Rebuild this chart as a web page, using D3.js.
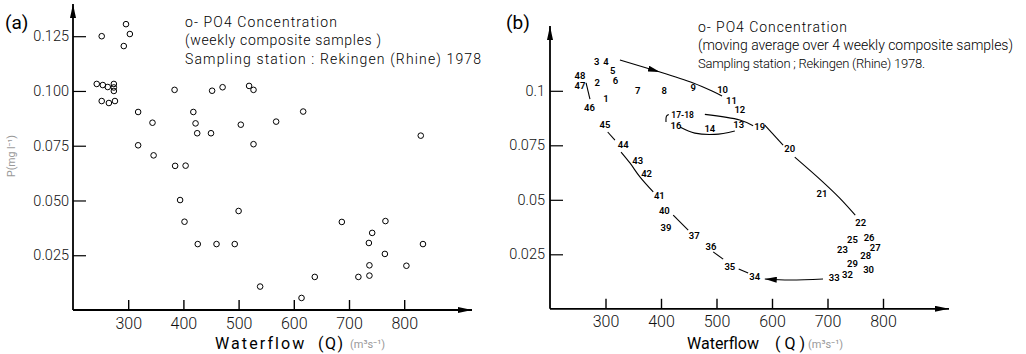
<!DOCTYPE html>
<html>
<head>
<meta charset="utf-8">
<script src="https://cdn.jsdelivr.net/npm/d3@7"></script>
<style>
  body { margin: 0; background: #fff; }
  svg { display: block; font-family: Roboto, "Liberation Sans", sans-serif; }
  .tick text { font-family: Roboto, "Liberation Sans", sans-serif; fill: #111; }
</style>
</head>
<body>
<svg id="chart" width="1026" height="354"></svg>
<script>
// ---------- data (a): weekly samples ----------
const flowA = [252, 296, 303, 292, 243, 254, 263, 274, 274, 274, 252, 265, 276,
  318, 344, 318, 346, 385, 404, 384, 418, 422, 425, 450, 452, 471, 504, 519, 527,
  527, 568, 617, 830, 394, 402, 426, 460, 493, 500, 539, 614, 638, 687, 717, 737,
  737, 736, 742, 766, 765, 804, 834];
const po4A = [0.125, 0.1305, 0.126, 0.1205, 0.1032, 0.1027, 0.1018, 0.1032, 0.1016,
  0.1000, 0.0954, 0.0945, 0.0954, 0.0904, 0.0855, 0.0752, 0.0706, 0.0658, 0.0659,
  0.1005, 0.0904, 0.0852, 0.0807, 0.0807, 0.1001, 0.1017, 0.0846, 0.1023, 0.1005,
  0.0757, 0.0860, 0.0906, 0.0796, 0.0502, 0.0403, 0.0301, 0.0301, 0.0301, 0.0452,
  0.0107, 0.0055, 0.0151, 0.0402, 0.0151, 0.0157, 0.0204, 0.0306, 0.0352, 0.0406,
  0.0256, 0.0202, 0.0301];

// ---------- data (b): moving average, labelled by week ----------
const weekB = ["1","2","3","4","5","6","7","8","9","10","11","12","13","14","16",
  "17-18","19","20","21","22","23","25","26","27","28","29","30","32","33","34",
  "35","36","37","39","40","41","42","43","44","45","46","47","48"];
const flowB = [301, 285, 284, 301, 313, 318, 358, 406, 458, 511, 527, 542, 540, 488,
  427, 439, 578, 632, 690, 760, 727, 745, 775, 786, 769, 745, 774, 736, 712, 569,
  524, 490, 460, 409, 406, 397, 374, 358, 332, 299, 271, 254, 254];
const po4B = [0.0962, 0.1037, 0.1134, 0.1134, 0.1092, 0.1046, 0.1000, 0.1000, 0.1013,
  0.1007, 0.0955, 0.0914, 0.0843, 0.0825, 0.0840, 0.0888, 0.0834, 0.0736, 0.0527,
  0.0395, 0.0273, 0.0316, 0.0326, 0.0280, 0.0242, 0.0209, 0.0178, 0.0158, 0.0143,
  0.0146, 0.0193, 0.0283, 0.0334, 0.0374, 0.0450, 0.0517, 0.0618, 0.0678, 0.0751,
  0.0843, 0.0924, 0.1025, 0.1070];

// hand drawn trajectory pieces in (b), [Q, P]
const trackSegments = [
  [[326, 0.1141], [398, 0.1086]],
  [[398, 0.1086], [458, 0.1036], [492, 0.0999], [510, 0.0976]],
  [[479, 0.0892], [542, 0.0866], [566, 0.0840]],
  [[434, 0.0834], [461, 0.0806], [497, 0.0800], [533, 0.0816]],
  [[409, 0.0857], [410, 0.0884], [414, 0.0891]],
  [[587, 0.0843], [620, 0.0751]],
  [[641, 0.0696], [690, 0.0586], [722, 0.0508], [750, 0.0430]],
  [[692, 0.0137], [632, 0.0132], [587, 0.0137]],
  [[540, 0.0183], [557, 0.0164]],
  [[494, 0.0261], [512, 0.0228]],
  [[422, 0.0430], [449, 0.0361]],
  [[304, 0.0811], [317, 0.0774]],
  [[328, 0.0719], [344, 0.0669], [362, 0.0605], [386, 0.0536]],
  [[265, 0.1036], [272, 0.0962]]
];
const arrowSegments = [0, 7];

const xTicks = [300, 400, 500, 600, 700, 800];
const yTicksA = [0.025, 0.05, 0.075, 0.1, 0.125];
const yTicksB = [0.025, 0.05, 0.075, 0.1];

const svg = d3.select("#chart");

const defs = svg.append("defs");
defs.append("marker")
  .attr("id", "axisArrow")
  .attr("viewBox", "0 0 14 6")
  .attr("refX", 14).attr("refY", 3)
  .attr("markerWidth", 14).attr("markerHeight", 6)
  .attr("markerUnits", "userSpaceOnUse")
  .attr("orient", "auto")
  .append("path").attr("d", "M0,0L14,3L0,6Z").attr("fill", "#000");
defs.append("marker")
  .attr("id", "trackArrow")
  .attr("viewBox", "0 0 12 6")
  .attr("refX", 12).attr("refY", 3)
  .attr("markerWidth", 12).attr("markerHeight", 6)
  .attr("markerUnits", "userSpaceOnUse")
  .attr("orient", "auto")
  .append("path").attr("d", "M0,0L12,3L0,6Z").attr("fill", "#000");

// scales
const xa = d3.scaleLinear().domain([200, 900]).range([73, 459.4]);
const ya = d3.scaleLinear().domain([0, 0.125]).range([310, 36.2]);
const xb = d3.scaleLinear().domain([200, 900]).range([550, 938.5]);
const yb = d3.scaleLinear().domain([0, 0.1]).range([308.8, 90.8]);

function drawAxes(x, y, yTicks, yFmt, xEnd, yTop, xPad, yPad) {
  const g = svg.append("g");
  g.append("g")
    .attr("transform", `translate(0,${y(0)})`)
    .call(d3.axisBottom(x).tickValues(xTicks).tickSize(-10).tickPadding(xPad).tickFormat(d3.format("d")))
    .call(s => s.select(".domain").remove())
    .call(s => s.selectAll(".tick line").attr("stroke-width", 1.4))
    .call(s => s.selectAll(".tick text").attr("font-size", 16).attr("font-weight", 300));
  g.append("g")
    .attr("transform", `translate(${x(200)},0)`)
    .call(d3.axisLeft(y).tickValues(yTicks).tickSize(-13).tickPadding(yPad).tickFormat(yFmt))
    .call(s => s.select(".domain").remove())
    .call(s => s.selectAll(".tick line").attr("stroke-width", 1.2))
    .call(s => s.selectAll(".tick text").attr("font-size", 14.5).attr("font-weight", 300));
  g.append("line")
    .attr("x1", x(200)).attr("y1", y(0)).attr("x2", xEnd).attr("y2", y(0))
    .attr("stroke", "#000").attr("stroke-width", 1.8).attr("marker-end", "url(#axisArrow)");
  g.append("line")
    .attr("x1", x(200)).attr("y1", y(0)).attr("x2", x(200)).attr("y2", yTop)
    .attr("stroke", "#000").attr("stroke-width", 1.8).attr("marker-end", "url(#axisArrow)");
}

function notes(lines, x, ys, sizes, widths) {
  svg.append("g").selectAll("text")
    .data(lines)
    .join("text")
    .attr("x", x)
    .attr("y", (d, i) => ys[i])
    .attr("font-size", (d, i) => sizes[i])
    .attr("font-weight", 300)
    .attr("textLength", (d, i) => widths[i])
    .attr("lengthAdjust", "spacing")
    .text(d => d);
}

// ---------- panel (a) ----------
drawAxes(xa, ya, yTicksA, d3.format(".3f"), 472, 4, 8, 4);

svg.append("g").selectAll("circle")
  .data(flowA.map((q, i) => [q, po4A[i]]))
  .join("circle")
  .attr("cx", d => xa(d[0]))
  .attr("cy", d => ya(d[1]))
  .attr("r", 2.8)
  .attr("fill", "none")
  .attr("stroke", "#000")
  .attr("stroke-width", 1);

svg.append("text").attr("x", 5).attr("y", 29).attr("font-size", 19).text("(a)");

notes(["o- PO4 Concentration", "(weekly composite samples )",
  "Sampling station : Rekingen (Rhine) 1978"], 185, [27, 45, 64], [14, 14, 14], [152, 196, 296]);

svg.append("text")
  .attr("transform", "translate(15,156) rotate(-90)")
  .attr("text-anchor", "middle")
  .attr("font-size", 10.5)
  .attr("fill", "#999")
  .text("P(mg l⁻¹)");

svg.append("text").attr("x", 215).attr("y", 349).attr("font-size", 16)
  .attr("letter-spacing", 2.1).text("Waterflow");
svg.append("text").attr("x", 318).attr("y", 349).attr("font-size", 16)
  .attr("letter-spacing", 1.5).text("(Q)");
svg.append("text").attr("x", 350).attr("y", 348).attr("font-size", 11)
  .attr("fill", "#999").text("(m³s⁻¹)");

// ---------- panel (b) ----------
drawAxes(xb, yb, yTicksB, d3.format("~g"), 949, 26, 7, 5);

const line = d3.line()
  .x(d => xb(d[0]))
  .y(d => yb(d[1]))
  .curve(d3.curveCatmullRom);

svg.append("g").selectAll("path")
  .data(trackSegments)
  .join("path")
  .attr("d", line)
  .attr("fill", "none")
  .attr("stroke", "#000")
  .attr("stroke-width", 1.1)
  .attr("marker-end", (d, i) => arrowSegments.includes(i) ? "url(#trackArrow)" : null);

svg.append("g").selectAll("text")
  .data(weekB.map((w, i) => ({ w, q: flowB[i], p: po4B[i] })))
  .join("text")
  .attr("x", d => xb(d.q))
  .attr("y", d => yb(d.p))
  .attr("dy", "0.35em")
  .attr("text-anchor", "middle")
  .attr("font-size", d => d.w === "17-18" ? 8.5 : 9.5)
  .attr("font-weight", 600)
  .text(d => d.w);

svg.append("text").attr("x", 506).attr("y", 29).attr("font-size", 19).text("(b)");

notes(["o- PO4 Concentration", "(moving average over 4 weekly composite samples)",
  "Sampling station ; Rekingen (Rhine) 1978."], 698, [32, 50, 68], [14, 14, 13], [149, 315, 227]);

svg.append("text").attr("x", 687).attr("y", 349).attr("font-size", 16).text("Waterflow");
svg.append("text").attr("x", 775).attr("y", 349).attr("font-size", 16)
  .attr("xml:space", "preserve").style("white-space", "pre").text("( Q )");
svg.append("text").attr("x", 808).attr("y", 348).attr("font-size", 11)
  .attr("fill", "#999").text("(m³s⁻¹)");
</script>
</body>
</html>
